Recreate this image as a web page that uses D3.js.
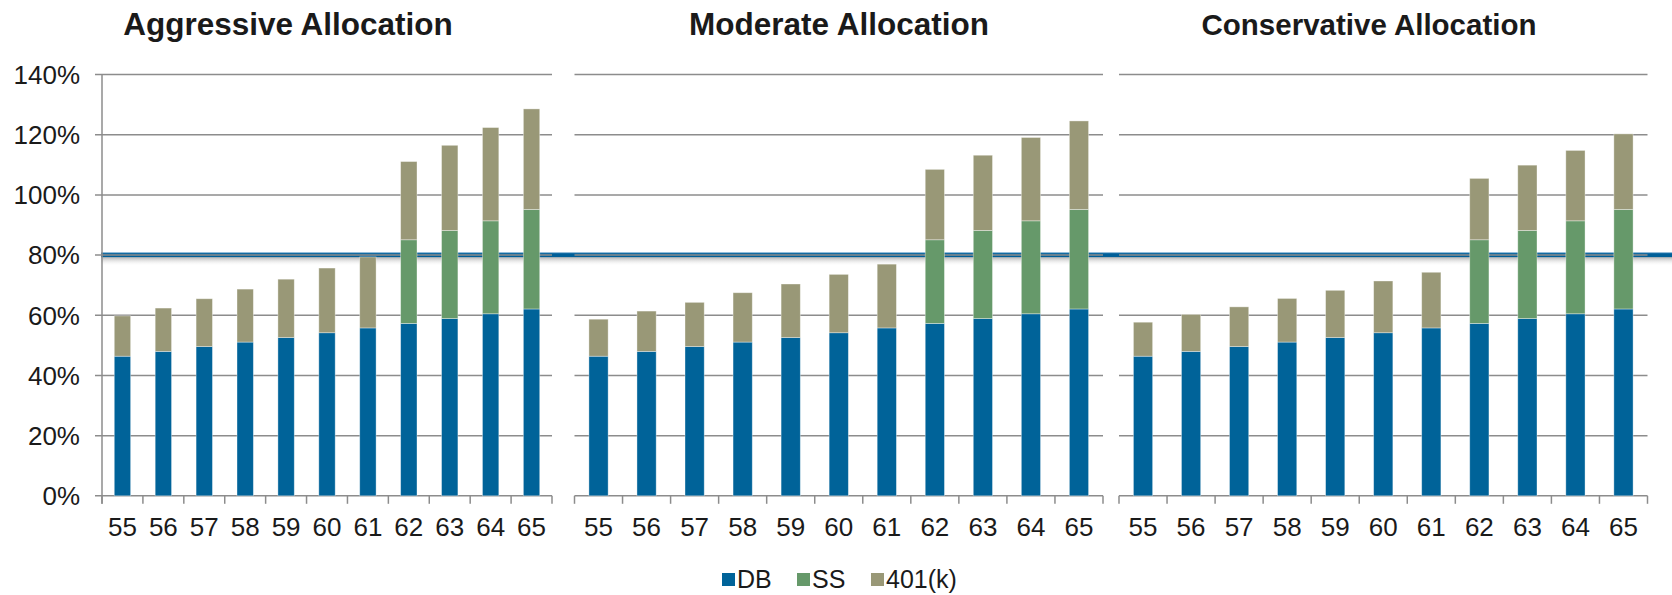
<!DOCTYPE html>
<html><head><meta charset="utf-8">
<script src="https://cdn.jsdelivr.net/npm/d3@7/dist/d3.min.js"></script>
<style>
body{margin:0;background:#fff}
svg{display:block}
text{font-family:"Liberation Sans",Arial,sans-serif;fill:#1a1a1a}
</style>
</head><body>
<svg id="chart" width="1672" height="595"></svg>
<script>
// ---- data ----
const ages = ["55","56","57","58","59","60","61","62","63","64","65"];
const panelTitles = ["Aggressive Allocation","Moderate Allocation","Conservative Allocation"];
const seriesNames = ["DB","SS","401(k)"];
const seriesColors = ["#006399","#66996a","#999877"];
const dbValues = [46.4,48.0,49.6,51.1,52.6,54.2,55.8,57.3,58.9,60.5,62.1];
const ssValues = [0,0,0,0,0,0,0,27.8,29.3,30.9,33.1];
const aggressive401k = [13.4,14.4,15.9,17.6,19.4,21.5,23.6,26.0,28.3,31.0,33.4];
const moderate401k = [12.3,13.4,14.7,16.4,17.8,19.4,21.2,23.4,25.0,27.7,29.4];
const conservative401k = [11.3,12.3,13.2,14.5,15.7,17.2,18.5,20.4,21.7,23.4,25.1];
const yTicks = [0,20,40,60,80,100,120,140];
const targetLevel = 80;

const k401ByPanel = [aggressive401k, moderate401k, conservative401k];

// ---- layout ----
const W = 1672, H = 595;
const panels = [
  {x0:102, x1:552, titleX:288, titleSize:31.5, showY:true},
  {x0:574.5, x1:1103, titleX:839, titleSize:31.5, showY:false},
  {x0:1119, x1:1647.5, titleX:1369, titleSize:29.5, showY:false}
];
const y = d3.scaleLinear().domain([0,140]).range([495.8,74.6]);
const gridColor = "#8c8c8c";

const svg = d3.select("#chart");
const defs = svg.append("defs");
const grad = defs.append("linearGradient").attr("id","shadow").attr("x1",0).attr("y1",0).attr("x2",0).attr("y2",1);
grad.append("stop").attr("offset","0%").attr("stop-color","#a8a8a8").attr("stop-opacity",0.9);
grad.append("stop").attr("offset","100%").attr("stop-color","#ffffff").attr("stop-opacity",0);

// ---- 80% target line (behind charts) ----
const yT = y(targetLevel);
svg.append("rect").attr("x",101).attr("y",yT+1.8).attr("width",W-101).attr("height",9).attr("fill","url(#shadow)");
svg.append("rect").attr("x",101).attr("y",yT-2.2).attr("width",W-101).attr("height",4.2).attr("fill","#005f98");
svg.append("rect").attr("x",101).attr("y",yT-2.6).attr("width",W-101).attr("height",0.8).attr("fill","#3b87bb");

// ---- panels ----
panels.forEach((p,pi)=>{
  const g = svg.append("g");
  const x = d3.scaleBand().domain(ages).range([p.x0,p.x1]).paddingInner(0.6).paddingOuter(0.3);
  const rows = ages.map((a,i)=>({age:a, DB:dbValues[i], SS:ssValues[i], "401(k)":k401ByPanel[pi][i]}));
  const stack = d3.stack().keys(seriesNames)(rows);

  // gridlines
  const gx0 = p.showY ? p.x0-7 : p.x0;
  g.append("g").selectAll("line").data(yTicks).join("line")
    .attr("x1",gx0).attr("x2",p.x1)
    .attr("y1",d=>y(d)).attr("y2",d=>y(d))
    .attr("stroke",gridColor).attr("stroke-width",1.5);

  // y axis line + labels
  if(p.showY){
    g.append("line").attr("x1",p.x0).attr("x2",p.x0).attr("y1",y(140)).attr("y2",y(0)+8)
      .attr("stroke",gridColor).attr("stroke-width",1.5);
    g.append("g").selectAll("text").data(yTicks).join("text")
      .attr("x",80).attr("y",d=>y(d)).attr("dy","0.36em")
      .attr("text-anchor","end").attr("font-size",26)
      .text(d=>d+"%");
  }

  // x axis ticks at band boundaries
  const bounds = ages.map(a=>x(a) - (x.step()-x.bandwidth())/2);
  bounds.push(p.x1);
  g.append("g").selectAll("line").data(bounds).join("line")
    .attr("x1",d=>d).attr("x2",d=>d).attr("y1",y(0)).attr("y2",y(0)+8)
    .attr("stroke",gridColor).attr("stroke-width",1.5);

  // bars
  stack.forEach((s,si)=>{
    g.append("g").selectAll("rect").data(s.filter(d=>d[1]-d[0]>0)).join("rect")
      .attr("x",d=>x(d.data.age)).attr("width",x.bandwidth())
      .attr("y",d=>y(d[1])).attr("height",d=>y(d[0])-y(d[1]))
      .attr("fill",seriesColors[si])
      .attr("stroke","rgba(255,255,255,0.45)").attr("stroke-width",0.8);
  });

  // x labels
  g.append("g").selectAll("text").data(ages).join("text")
    .attr("x",d=>x(d)+x.bandwidth()/2).attr("y",536)
    .attr("text-anchor","middle").attr("font-size",26)
    .text(d=>d);

  // title
  g.append("text").attr("x",p.titleX).attr("y",35).attr("text-anchor","middle")
    .attr("font-size",p.titleSize).attr("font-weight","bold").text(panelTitles[pi]);
});

// ---- legend ----
const legend = svg.append("g");
const legX = [722,797,871];
seriesNames.forEach((n,i)=>{
  legend.append("rect").attr("x",legX[i]).attr("y",573).attr("width",13).attr("height",13).attr("fill",seriesColors[i]);
  legend.append("text").attr("x",legX[i]+15).attr("y",588).attr("font-size",25).text(n);
});
</script>
</body></html>
